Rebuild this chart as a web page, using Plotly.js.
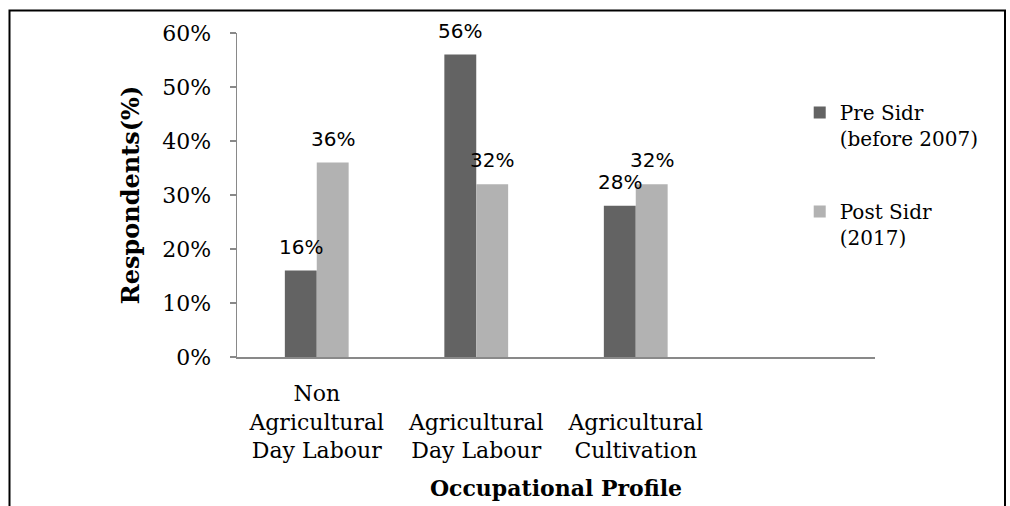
<!DOCTYPE html>
<html>
<head>
<meta charset="utf-8">
<script src="https://cdn.plot.ly/plotly-3.0.1.min.js"></script>
<style>html,body{margin:0;padding:0;background:#fff;}#chart{width:1010px;height:506px;}</style>
</head>
<body>
<div id="chart"></div>
<script>
// ---- data ----
const categories = ["Non Agricultural Day Labour", "Agricultural Day Labour", "Agricultural Cultivation"];
const tickLabels = ["Non<br>Agricultural<br>Day Labour", " <br>Agricultural<br>Day Labour", " <br>Agricultural<br>Cultivation"];
const preSidr = [16, 56, 28];
const postSidr = [36, 32, 32];
const seriesNames = ["Pre Sidr<br>(before 2007)", "Post Sidr<br>(2017)"];
const yTickVals = [0, 10, 20, 30, 40, 50, 60];
const yTickText = ["0%", "10%", "20%", "30%", "40%", "50%", "60%"];

const SERIF = "DejaVu Serif";
const series = [preSidr, postSidr];
const colors = ["#636363", "#b2b2b2"];
const offsets = [-0.1, 0.1];

const traces = series.map((vals, s) => ({
  type: "bar",
  name: seriesNames[s],
  x: categories,
  y: vals,
  marker: { color: colors[s], line: { width: 0 } },
  legendgroup: "g" + s,
  hoverinfo: "skip"
}));

const annotations = [];
series.forEach((vals, s) => {
  vals.forEach((v, i) => {
    annotations.push({
      xref: "x", yref: "y",
      x: i + offsets[s], y: v,
      text: v + "%",
      showarrow: false,
      yanchor: "bottom",
      yshift: 10,
      font: { family: "DejaVu Sans", size: 20, color: "#000" }
    });
  });
});

const layout = {
  width: 1010, height: 506,
  margin: { l: 237, r: 135, t: 33, b: 149 },
  paper_bgcolor: "#fff", plot_bgcolor: "#fff",
  font: { family: SERIF, color: "#000" },
  barmode: "group",
  bargap: 0.6,
  bargroupgap: 0,
  showlegend: true,
  legend: {
    x: 0.882, xanchor: "left",
    y: 0.815, yanchor: "top",
    valign: "top",
    traceorder: "grouped",
    tracegroupgap: 44,
    font: { family: SERIF, size: 20, color: "#000" },
    bgcolor: "rgba(0,0,0,0)"
  },
  xaxis: {
    type: "category",
    range: [-0.5, 3.5],
    tickmode: "array",
    tickvals: categories,
    ticktext: tickLabels,
    ticks: "",
    showgrid: false,
    zeroline: false,
    showline: true,
    linecolor: "#898989",
    linewidth: 1.5,
    ticklabelstandoff: 16,
    tickfont: { family: SERIF, size: 22, color: "#000" },
    title: { text: "Occupational Profile", font: { family: SERIF, size: 22, color: "#000", weight: "bold" }, standoff: 18 },
    fixedrange: true
  },
  yaxis: {
    range: [0, 60],
    tickmode: "array",
    tickvals: yTickVals,
    ticktext: yTickText,
    ticks: "outside",
    ticklen: 6,
    tickcolor: "#898989",
    tickwidth: 1.5,
    showgrid: false,
    zeroline: false,
    showline: true,
    linecolor: "#898989",
    linewidth: 1.5,
    ticklabelstandoff: 14,
    tickfont: { family: SERIF, size: 22, color: "#000" },
    title: { text: "Respondents(%)", font: { family: SERIF, size: 24, color: "#000", weight: "bold" }, standoff: 16 },
    fixedrange: true
  },
  annotations: annotations,
  shapes: [{
    type: "rect", xref: "paper", yref: "paper",
    x0: (9.5 - 237) / 638, x1: (1005 - 237) / 638,
    y0: (357 - 520) / 324, y1: (357 - 10.5) / 324,
    line: { color: "#000", width: 2 },
    fillcolor: "rgba(0,0,0,0)",
    layer: "below"
  }]
};

Plotly.newPlot("chart", traces, layout, { displayModeBar: false, staticPlot: true });
</script>
</body>
</html>
